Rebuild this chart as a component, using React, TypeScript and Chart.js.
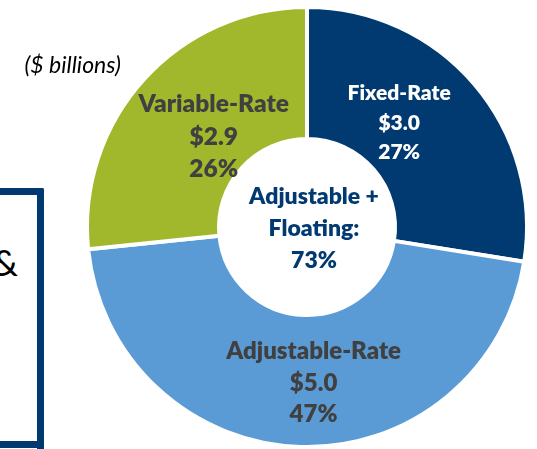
import React, { useEffect, useRef } from "react";
import { Chart, registerables } from "chart.js";

Chart.register(...registerables);

// ---- data ----
const categories = ["Fixed-Rate", "Adjustable-Rate", "Variable-Rate"];
const amounts = [3.0, 5.0, 2.9];
const amountLabels = ["$3.0", "$5.0", "$2.9"];
const shareLabels = ["27%", "47%", "26%"];
const centerLines = ["Adjustable +", "Floating:", "73%"];
const unitLabel = "($ billions)";

// ---- styles ----
const sliceColors = ["#003A70", "#5B9BD5", "#A2B82C"];
const labelColors = ["#FFFFFF", "#404040", "#404040"];
const labelSizes = [21, 24, 24.5];
const labelLineHeights = [29.5, 31.5, 32.5];
const labelShift = [
  [-25, -4],
  [11, 2],
  [21, 13],
];
const FONT = "Lato, 'Open Sans', 'DejaVu Sans', sans-serif";
const WEIGHT = "800";

const labelPlugin = {
  id: "sliceLabels",
  afterDatasetsDraw(chart: any) {
    const ctx = chart.ctx;
    const meta = chart.getDatasetMeta(0);
    ctx.save();
    ctx.textAlign = "center";
    ctx.textBaseline = "middle";
    let cx0 = 0;
    let cy0 = 0;
    meta.data.forEach((arc: any, i: number) => {
      const p = arc.getProps(["x", "y", "startAngle", "endAngle", "innerRadius", "outerRadius"], true);
      cx0 = p.x;
      cy0 = p.y;
      const mid = (p.startAngle + p.endAngle) / 2;
      const r = (p.innerRadius + p.outerRadius) / 2;
      const cx = p.x + Math.cos(mid) * r + labelShift[i][0];
      const cy = p.y + Math.sin(mid) * r + labelShift[i][1];
      const lines = [categories[i], amountLabels[i], shareLabels[i]];
      ctx.fillStyle = labelColors[i];
      ctx.font = `${WEIGHT} ${labelSizes[i]}px ${FONT}`;
      lines.forEach((t, j) => {
        ctx.fillText(t, cx, cy + (j - 1) * labelLineHeights[i]);
      });
    });
    ctx.fillStyle = "#003A70";
    ctx.font = `${WEIGHT} 23px ${FONT}`;
    centerLines.forEach((t, j) => {
      ctx.fillText(t, cx0 + 7, cy0 + 1.5 + (j - 1) * 32);
    });
    ctx.restore();
  },
};

function DonutChart() {
  const ref = useRef<HTMLCanvasElement | null>(null);
  useEffect(() => {
    if (!ref.current) return;
    const chart = new Chart(ref.current, {
      type: "doughnut",
      data: {
        labels: categories,
        datasets: [
          {
            data: amounts,
            backgroundColor: sliceColors,
            borderColor: "#FFFFFF",
            borderWidth: 4,
            hoverOffset: 0,
          },
        ],
      },
      options: {
        animation: false,
        responsive: false,
        cutout: "40%",
        layout: { padding: { left: 85, top: 5, right: 8, bottom: 0 } },
        plugins: {
          legend: { display: false },
          tooltip: { enabled: false },
          title: { display: false },
        },
        events: [],
      },
      plugins: [labelPlugin],
    });
    return () => chart.destroy();
  }, []);
  return (
    <canvas
      ref={ref}
      width={537}
      height={449}
      style={{ position: "absolute", left: 0, top: 0, width: 537, height: 449 }}
    />
  );
}

export default function App() {
  return (
    <div
      style={{
        position: "fixed",
        left: 0,
        top: 0,
        width: 537,
        height: 449,
        overflow: "hidden",
        background: "#FFFFFF",
      }}
    >
      <div
        style={{
          position: "absolute",
          left: -20,
          top: 188,
          width: 57,
          height: 246,
          borderTop: "7px solid #003A70",
          borderRight: "7px solid #003A70",
          borderBottom: "7px solid #003A70",
          borderTopRightRadius: 2,
          borderBottomRightRadius: 2,
        }}
      />
      <div
        style={{
          position: "absolute",
          left: 37,
          top: 436,
          width: 7,
          height: 20,
          background: "#003A70",
        }}
      />
      <div
        style={{
          position: "absolute",
          left: -60,
          top: 240,
          width: 78,
          textAlign: "right",
          fontFamily: FONT,
          fontSize: 37,
          lineHeight: "44px",
          color: "#000000",
        }}
      >
        &amp;
      </div>
      <DonutChart />
      <div
        style={{
          position: "absolute",
          left: 0,
          top: 51,
          width: 121,
          textAlign: "right",
          fontFamily: FONT,
          fontStyle: "italic",
          fontSize: 23,
          lineHeight: "26px",
          color: "#000000",
        }}
      >
        {unitLabel}
      </div>
    </div>
  );
}
